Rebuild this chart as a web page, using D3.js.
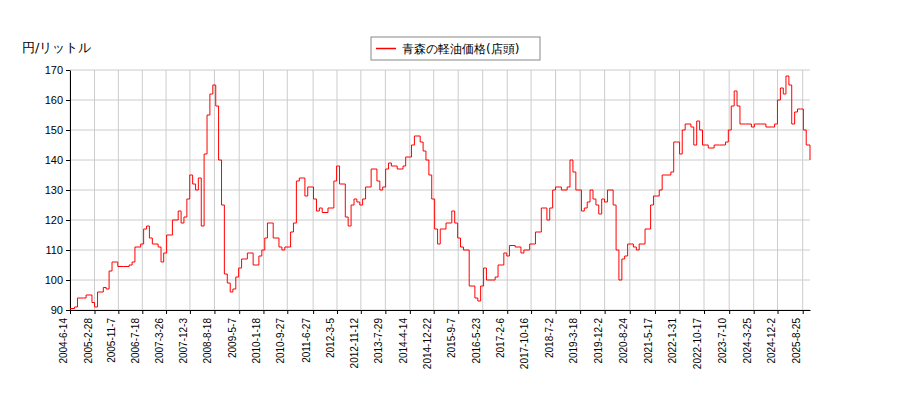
<!DOCTYPE html>
<html><head><meta charset="utf-8">
<script src="https://cdn.jsdelivr.net/npm/d3@7"></script>
<style>body{margin:0;background:#fff}svg{font-family:"DejaVu Sans",sans-serif}</style>
</head><body><svg id="c" width="900" height="400"></svg>
<script>
const dates = ["2004-6-14","2004-8-1","2004-9-1","2004-11-1","2004-12-1","2005-2-1","2005-3-1","2005-4-1","2005-6-1","2005-7-1","2005-8-1","2005-9-1","2005-11-1","2006-1-1","2006-3-1","2006-4-1","2006-5-1","2006-7-1","2006-8-1","2006-9-1","2006-10-1","2006-11-1","2007-1-1","2007-2-1","2007-3-1","2007-4-1","2007-6-1","2007-8-1","2007-9-1","2007-10-1","2007-11-1","2007-12-1","2008-1-1","2008-2-1","2008-3-1","2008-4-1","2008-5-1","2008-6-1","2008-7-1","2008-8-1","2008-9-1","2008-10-1","2008-11-1","2008-12-1","2009-1-1","2009-2-1","2009-3-1","2009-4-1","2009-5-1","2009-6-1","2009-7-1","2009-8-1","2009-10-1","2009-12-1","2010-1-1","2010-2-1","2010-3-1","2010-4-1","2010-5-1","2010-7-1","2010-8-1","2010-9-1","2010-11-1","2010-12-1","2011-1-1","2011-2-1","2011-3-1","2011-4-1","2011-5-1","2011-7-1","2011-8-1","2011-9-1","2011-10-1","2011-12-1","2012-2-1","2012-3-1","2012-4-1","2012-6-1","2012-7-1","2012-8-1","2012-9-1","2012-10-1","2012-11-1","2012-12-1","2013-1-1","2013-3-1","2013-5-1","2013-6-1","2013-7-1","2013-8-1","2013-9-1","2013-10-1","2013-12-1","2014-2-1","2014-3-1","2014-5-1","2014-6-1","2014-8-1","2014-9-1","2014-10-1","2014-11-1","2014-12-1","2015-1-1","2015-2-1","2015-3-1","2015-4-1","2015-5-1","2015-7-1","2015-8-1","2015-9-1","2015-10-1","2015-11-1","2016-1-1","2016-3-1","2016-4-1","2016-5-1","2016-6-1","2016-7-1","2016-9-1","2016-10-1","2016-11-1","2017-1-1","2017-2-1","2017-3-1","2017-5-1","2017-7-1","2017-8-1","2017-10-1","2017-12-1","2018-2-1","2018-4-1","2018-5-1","2018-6-1","2018-7-1","2018-9-1","2018-11-1","2018-12-1","2019-1-1","2019-2-1","2019-4-1","2019-5-1","2019-6-1","2019-7-1","2019-8-1","2019-9-1","2019-10-1","2019-11-1","2019-12-1","2020-1-1","2020-3-1","2020-4-1","2020-5-1","2020-6-1","2020-7-1","2020-8-1","2020-10-1","2020-11-1","2020-12-1","2021-2-1","2021-4-1","2021-5-1","2021-7-1","2021-8-1","2021-9-1","2021-11-1","2021-12-1","2022-1-1","2022-2-1","2022-3-1","2022-4-1","2022-6-1","2022-7-1","2022-8-1","2022-9-1","2022-10-1","2022-12-1","2023-2-1","2023-4-1","2023-6-1","2023-7-1","2023-8-1","2023-9-1","2023-10-1","2023-11-1","2024-1-1","2024-3-1","2024-4-1","2024-6-1","2024-8-1","2024-10-1","2024-11-1","2024-12-1","2025-1-1","2025-2-1","2025-3-1","2025-4-1","2025-5-1","2025-6-1","2025-7-1","2025-8-1","2025-9-1","2025-10-1","2025-11-10"];
const values = [90.5,91,94,94,95,92.5,91,96,97.5,97,103,106,104.5,104.5,105,106,111,112,117,118,114,112,111,106,109,115,120,123,119,121,127,135,132,130,134,118,142,155,162,165,158,140,125,102,99,96,97,101,104,107,107,109,105,108,110,114,119,119,114,111,110,111,116,119,133,134,134,128,131,127,123,124,122.5,124,133,138,132,121,118,125,127,126,125,127,131,137,133,130,131,137,139,138,137,138,141,145,148,146,143,140,135,127,117,112,117,117,119,123,119,114,111,110,98,94,93,98,104,100,100,101,105,109,108,111.5,111,109,110,112,116,124,120,124,130,131,130,131,140,136,130,123,124,126,130,127,125,122,127,126,130,125,110,100,107,108,112,111,110,112,117,125,128,130,135,135,136,146,146,142,150,152,151,145,153,150,145,144,145,145,146,150,158,163,158,152,152,151,152,152,151,151,152,160,164,162,168,165,152,156,157,157,150,145,140];
const tickLabels = ["2004-6-14","2005-2-28","2005-11-7","2006-7-18","2007-3-26","2007-12-3","2008-8-18","2009-5-7","2010-1-18","2010-9-27","2011-6-27","2012-3-5","2012-11-12","2013-7-29","2014-4-14","2014-12-22","2015-9-7","2016-5-23","2017-2-6","2017-10-16","2018-7-2","2019-3-18","2019-12-2","2020-8-24","2021-5-17","2022-1-31","2022-10-17","2023-7-10","2024-3-25","2024-12-2","2025-8-25"];
const yTicks = [90,100,110,120,130,140,150,160,170];
const seriesName = "青森の軽油価格(店頭)";

const parse = d3.timeParse("%Y-%m-%d");
const data = dates.map((d,i)=>({d:parse(d),v:values[i]}));
const svg = d3.select("#c");
const L=70,R=810,T=70,B=310;
const x = d3.scaleTime().domain([parse("2004-6-14"),parse("2025-11-10")]).range([L,R]);
const y = d3.scaleLinear().domain([90,170]).range([B,T]);
const tv = tickLabels.map(parse);
svg.append("g").selectAll("line.h").data(yTicks).join("line")
  .attr("x1",L).attr("x2",R).attr("y1",d=>y(d)).attr("y2",d=>y(d)).attr("stroke","#ccc");
svg.append("g").selectAll("line.v").data(tv).join("line")
  .attr("x1",d=>x(d)).attr("x2",d=>x(d)).attr("y1",T).attr("y2",B).attr("stroke","#ccc");
svg.append("g").attr("transform",`translate(${L},0)`)
  .call(d3.axisLeft(y).tickValues(yTicks).tickSize(4).tickSizeOuter(0))
  .call(g=>g.selectAll("text").attr("font-size",11).attr("fill","#000"));
const xa = svg.append("g").attr("transform",`translate(0,${B})`)
  .call(d3.axisBottom(x).tickValues(tv).tickFormat((d,i)=>tickLabels[i]).tickSize(4).tickSizeOuter(0));
xa.selectAll("text").attr("font-size",10).attr("fill","#000")
  .attr("transform","rotate(-90)").attr("text-anchor","end").attr("dx","-0.5em").attr("dy","-0.35em").attr("y",0).attr("x",-3);
svg.append("path").datum(data).attr("fill","none").attr("stroke","red").attr("stroke-width",1)
  .attr("d",d3.line().x(d=>x(d.d)).y(d=>y(d.v)).curve(d3.curveStepAfter));
svg.append("text").attr("x",22).attr("y",52).attr("font-size",13).text("円/リットル");
const lg = svg.append("g");
lg.append("rect").attr("x",371).attr("y",37).attr("width",169).attr("height",23).attr("fill","#fff").attr("stroke","#888");
lg.append("line").attr("x1",376).attr("x2",396).attr("y1",48.5).attr("y2",48.5).attr("stroke","red").attr("stroke-width",1.5);
lg.append("text").attr("x",402).attr("y",53).attr("font-size",12).text(seriesName);
</script></body></html>
